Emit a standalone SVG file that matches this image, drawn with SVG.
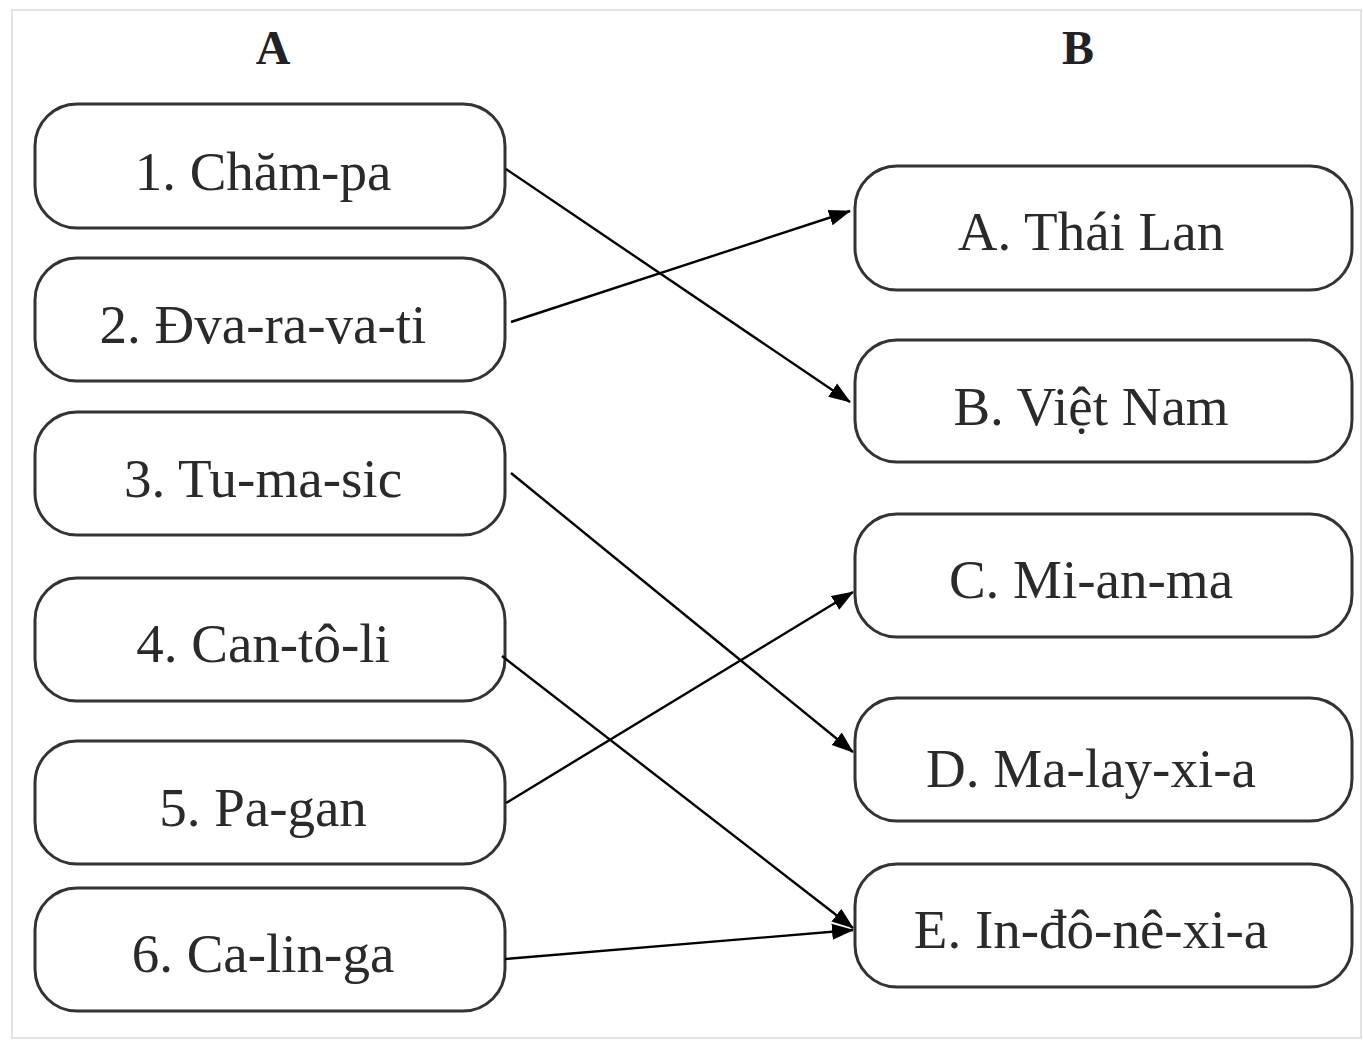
<svg xmlns="http://www.w3.org/2000/svg" width="1363" height="1041" viewBox="0 0 1363 1041">
<defs>
<style>
.box{fill:#fff;stroke:#333;stroke-width:3}
.lbl{font-family:"Liberation Serif","Times New Roman",serif;font-size:55px;fill:#2a2a2a;text-anchor:middle}
.hdr{font-family:"Liberation Serif","Times New Roman",serif;font-size:48px;font-weight:bold;fill:#222;text-anchor:middle}
.con{stroke:#000;stroke-width:2.4;fill:none}
</style>
<marker id="ah" markerUnits="userSpaceOnUse" markerWidth="22" markerHeight="18" viewBox="0 0 22 18" refX="21" refY="9" orient="auto">
<path d="M0,1 L22,9 L0,17 Z" fill="#000"/>
</marker>
</defs>
<rect x="0" y="0" width="1363" height="1041" fill="#fff"/>
<rect x="12" y="10" width="1349" height="1028" fill="none" stroke="#e2e2e2" stroke-width="2"/>
<text class="hdr" x="273" y="64">A</text>
<text class="hdr" x="1078" y="64">B</text>
<g id="n1"><rect class="box" x="35" y="104" width="470" height="124" rx="42"/><text class="lbl" x="263" y="190">1. Chăm-pa</text></g>
<g id="n2"><rect class="box" x="35" y="258" width="470" height="123" rx="42"/><text class="lbl" x="263" y="343">2. Đva-ra-va-ti</text></g>
<g id="n3"><rect class="box" x="35" y="412" width="470" height="123" rx="42"/><text class="lbl" x="263" y="497">3. Tu-ma-sic</text></g>
<g id="n4"><rect class="box" x="35" y="578" width="470" height="123" rx="42"/><text class="lbl" x="263" y="662">4. Can-tô-li</text></g>
<g id="n5"><rect class="box" x="35" y="741" width="470" height="123" rx="42"/><text class="lbl" x="263" y="826">5. Pa-gan</text></g>
<g id="n6"><rect class="box" x="35" y="888" width="470" height="123" rx="42"/><text class="lbl" x="263" y="972">6. Ca-lin-ga</text></g>
<g id="nA"><rect class="box" x="855" y="166" width="497" height="124" rx="42"/><text class="lbl" x="1091" y="250">A. Thái Lan</text></g>
<g id="nB"><rect class="box" x="855" y="340" width="497" height="122" rx="42"/><text class="lbl" x="1091" y="425">B. Việt Nam</text></g>
<g id="nC"><rect class="box" x="855" y="514" width="497" height="123" rx="42"/><text class="lbl" x="1091" y="598">C. Mi-an-ma</text></g>
<g id="nD"><rect class="box" x="855" y="698" width="497" height="123" rx="42"/><text class="lbl" x="1091" y="787">D. Ma-lay-xi-a</text></g>
<g id="nE"><rect class="box" x="855" y="864" width="497" height="123" rx="42"/><text class="lbl" x="1091" y="948">E. In-đô-nê-xi-a</text></g>
<g id="connectors">
<line class="con" x1="506" y1="169" x2="850" y2="402" marker-end="url(#ah)"/>
<line class="con" x1="511" y1="322" x2="850" y2="211" marker-end="url(#ah)"/>
<line class="con" x1="511" y1="473" x2="853" y2="752" marker-end="url(#ah)"/>
<line class="con" x1="502" y1="656" x2="853" y2="928" marker-end="url(#ah)"/>
<line class="con" x1="506" y1="803" x2="853" y2="592" marker-end="url(#ah)"/>
<line class="con" x1="505" y1="959" x2="853" y2="930" marker-end="url(#ah)"/>
</g>
</svg>
